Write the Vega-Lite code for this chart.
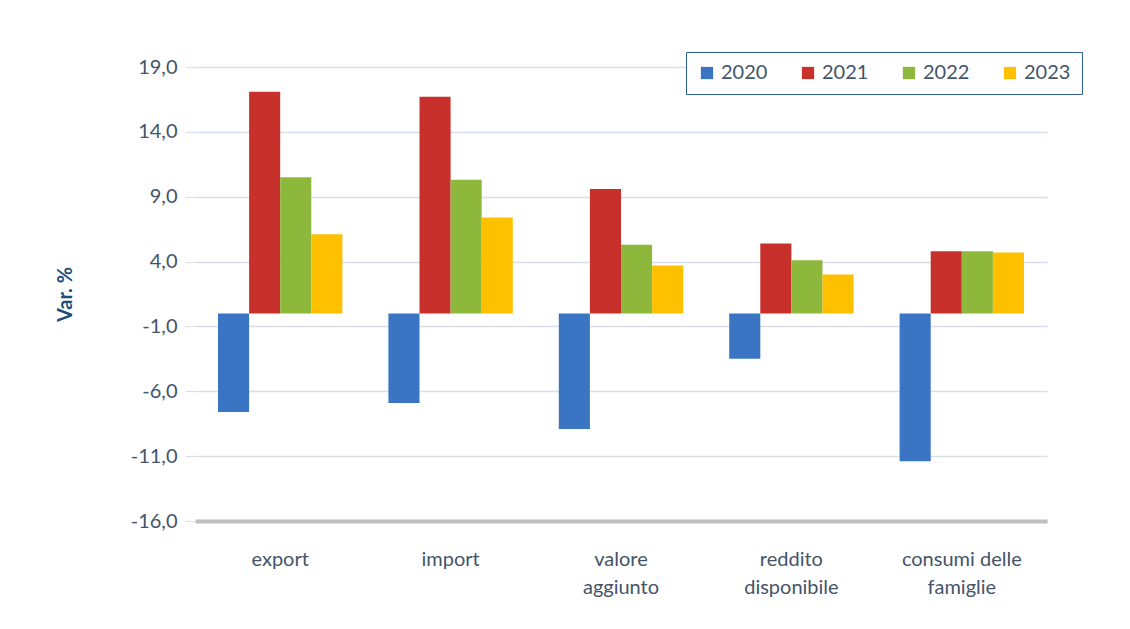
{
  "$schema": "https://vega.github.io/schema/vega-lite/v6.json",
  "autosize": "none",
  "width": 852,
  "height": 454,
  "padding": {"left": 195, "top": 67, "right": 83, "bottom": 108},
  "background": "white",
  "config": {
    "font": "Lato",
    "view": {"stroke": null}
  },
  "data": {
    "values": [
      {"voce": "export", "anno": "2020", "var": -7.6},
      {"voce": "export", "anno": "2021", "var": 17.1},
      {"voce": "export", "anno": "2022", "var": 10.5},
      {"voce": "export", "anno": "2023", "var": 6.1},
      {"voce": "import", "anno": "2020", "var": -6.9},
      {"voce": "import", "anno": "2021", "var": 16.7},
      {"voce": "import", "anno": "2022", "var": 10.3},
      {"voce": "import", "anno": "2023", "var": 7.4},
      {"voce": "valore aggiunto", "anno": "2020", "var": -8.9},
      {"voce": "valore aggiunto", "anno": "2021", "var": 9.6},
      {"voce": "valore aggiunto", "anno": "2022", "var": 5.3},
      {"voce": "valore aggiunto", "anno": "2023", "var": 3.7},
      {"voce": "reddito disponibile", "anno": "2020", "var": -3.5},
      {"voce": "reddito disponibile", "anno": "2021", "var": 5.4},
      {"voce": "reddito disponibile", "anno": "2022", "var": 4.1},
      {"voce": "reddito disponibile", "anno": "2023", "var": 3.0},
      {"voce": "consumi delle famiglie", "anno": "2020", "var": -11.4},
      {"voce": "consumi delle famiglie", "anno": "2021", "var": 4.8},
      {"voce": "consumi delle famiglie", "anno": "2022", "var": 4.8},
      {"voce": "consumi delle famiglie", "anno": "2023", "var": 4.7}
    ]
  },
  "mark": {"type": "bar", "stroke": null},
  "encoding": {
    "x": {
      "field": "voce",
      "type": "nominal",
      "sort": ["export", "import", "valore aggiunto", "reddito disponibile", "consumi delle famiglie"],
      "scale": {"paddingInner": 0.27, "paddingOuter": 0.135},
      "axis": {
        "title": null,
        "labelAngle": 0,
        "labelFontSize": 20,
        "labelColor": "#44546A",
        "labelPadding": 28,
        "labelLineHeight": 28,
        "labelExpr": "datum.value == 'valore aggiunto' ? ['valore', 'aggiunto'] : datum.value == 'reddito disponibile' ? ['reddito', 'disponibile'] : datum.value == 'consumi delle famiglie' ? ['consumi delle', 'famiglie'] : datum.value",
        "ticks": false,
        "domain": true,
        "domainColor": "#BFBFBF",
        "domainWidth": 4
      }
    },
    "xOffset": {"field": "anno", "type": "nominal", "sort": ["2020", "2021", "2022", "2023"]},
    "y": {
      "field": "var",
      "type": "quantitative",
      "scale": {"domain": [-16, 19], "nice": false, "zero": false},
      "axis": {
        "values": [-16, -11, -6, -1, 4, 9, 14, 19],
        "labelExpr": "replace(replace(format(datum.value, '.1f'), '.', ','), '\u2212', '-')",
        "labelFontSize": 20,
        "labelColor": "#44546A",
        "labelPadding": 8,
        "tickSize": 10,
        "tickColor": "#D9DFEA",
        "domain": false,
        "gridColor": "#D9DFEA",
        "gridWidth": 1.5,
        "title": "Var. %",
        "titleFontSize": 20,
        "titleFontWeight": "bold",
        "titleColor": "#1F4E79",
        "titleX": -130,
        "titleY": 227,
        "titleAngle": -90,
        "titleAlign": "center",
        "titleBaseline": "middle"
      }
    },
    "color": {
      "field": "anno",
      "type": "nominal",
      "scale": {
        "domain": ["2020", "2021", "2022", "2023"],
        "range": ["#3A75C4", "#C8302C", "#8DB83B", "#FFC000"]
      },
      "legend": {
        "title": null,
        "orient": "none",
        "legendX": 491,
        "legendY": -15,
        "direction": "horizontal",
        "columns": 4,
        "symbolType": "square",
        "symbolSize": 150,
        "symbolStrokeWidth": 0,
        "labelFontSize": 20,
        "labelColor": "#44546A",
        "labelOffset": 4,
        "columnPadding": 30,
        "padding": 11,
        "strokeColor": "#2E5C9A",
        "fillColor": "white"
      }
    }
  }
}
